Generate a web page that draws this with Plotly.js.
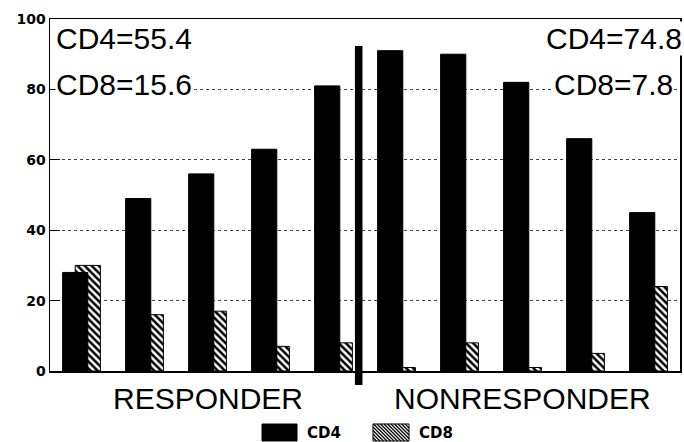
<!DOCTYPE html>
<html>
<head>
<meta charset="utf-8">
<script src="https://cdn.plot.ly/plotly-3.0.1.min.js"></script>
<style>html,body{margin:0;padding:0;background:#fff;}#chart{width:684px;height:442px;}</style>
</head>
<body>
<div id="chart"></div>
<script>
// Data
const categories = ['R1','R2','R3','R4','R5','N1','N2','N3','N4','N5'];
const cd4Values = [28, 49, 56, 63, 81, 91, 90, 82, 66, 45];
const cd8Values = [30, 16, 17, 7, 8, 1, 8, 1, 5, 24];
const groupLabels = ['RESPONDER', 'NONRESPONDER'];
const groupCenters = [2, 7];
const responderStats = ['CD4=55.4', 'CD8=15.6'];
const nonresponderStats = ['CD4=74.8', 'CD8=7.8'];
const seriesNames = ['CD4', 'CD8'];
const yTicks = [0, 20, 40, 60, 80, 100];

const W = 684, H = 442, M = {l: 50, r: 4, t: 19, b: 71};
const PW = W - M.l - M.r, PH = H - M.t - M.b;
const px2x = p => (p - M.l) / PW;
const px2y = p => (H - M.b - p) / PH;

const bigFont = {family: 'Liberation Sans, Arial, sans-serif', size: 30, color: '#000'};
const smallBold = {family: 'DejaVu Sans, sans-serif', size: 15, color: '#000', weight: 'bold'};

const traceCD8 = {
  type: 'bar', name: seriesNames[1], x: categories, y: cd8Values,
  offset: -0.1, width: 0.4, showlegend: false,
  marker: {color: '#fff', line: {color: '#000', width: 1},
    pattern: {shape: '\\', fgcolor: '#000', bgcolor: '#fff', size: 5, solidity: 0.5}}
};
const traceCD4 = {
  type: 'bar', name: seriesNames[0], x: categories, y: cd4Values,
  offset: -0.3, width: 0.4, showlegend: false,
  marker: {color: '#000', line: {color: '#000', width: 1}}
};

const annotations = [];
groupLabels.forEach((t, i) => annotations.push({
  text: t, xref: 'x', yref: 'paper', x: groupCenters[i], y: -0.077,
  xanchor: 'center', yanchor: 'middle', showarrow: false, font: bigFont
}));
responderStats.forEach((t, i) => annotations.push({
  text: t, xref: 'paper', yref: 'paper', x: 0.008, y: [0.946, 0.815][i],
  xanchor: 'left', yanchor: 'middle', showarrow: false, font: bigFont,
  bgcolor: '#fff', borderpad: 0
}));
nonresponderStats.forEach((t, i) => annotations.push({
  text: t, xref: 'paper', yref: 'paper', x: [1.004, 0.99][i], y: [0.946, 0.815][i],
  xanchor: 'right', yanchor: 'middle', showarrow: false, font: bigFont,
  bgcolor: '#fff', borderpad: 0
}));

// Custom legend (swatches + labels)
const shapes = [{type: 'rect', xref: 'x', yref: 'paper', x0: 4.34, x1: 4.46, y0: -0.04, y1: 0.923,
  fillcolor: '#000', line: {width: 0}, layer: 'above'}];
const sw = [{x0: 262, x1: 297}, {x0: 373, x1: 409}];
const swY0 = 424, swY1 = 441;
shapes.push({type: 'rect', xref: 'paper', yref: 'paper', x0: px2x(sw[0].x0), x1: px2x(sw[0].x1),
  y0: px2y(swY1), y1: px2y(swY0), fillcolor: '#000', line: {color: '#000', width: 1}});
shapes.push({type: 'rect', xref: 'paper', yref: 'paper', x0: px2x(sw[1].x0), x1: px2x(sw[1].x1),
  y0: px2y(swY1), y1: px2y(swY0), fillcolor: '#fff', line: {color: '#000', width: 1}});
// hatch lines "\" inside CD8 swatch
const hh = swY1 - swY0;
for (let s = sw[1].x0 - hh; s < sw[1].x1; s += 3.5) {
  let xa = s, ya = swY0, xb = s + hh, yb = swY1;
  if (xa < sw[1].x0) { ya += sw[1].x0 - xa; xa = sw[1].x0; }
  if (xb > sw[1].x1) { yb -= xb - sw[1].x1; xb = sw[1].x1; }
  if (xb - xa < 1) continue;
  shapes.push({type: 'line', xref: 'paper', yref: 'paper', x0: px2x(xa), y0: px2y(ya),
    x1: px2x(xb), y1: px2y(yb), line: {color: '#000', width: 1.2}});
}
seriesNames.forEach((n, i) => annotations.push({
  text: n, xref: 'paper', yref: 'paper', x: px2x(sw[i].x1 + 8), y: px2y(433),
  xanchor: 'left', yanchor: 'middle', showarrow: false, font: smallBold
}));

const layout = {
  width: W, height: H,
  margin: M,
  paper_bgcolor: '#fff', plot_bgcolor: '#fff',
  barmode: 'overlay',
  showlegend: false,
  xaxis: {type: 'category', range: [-0.5, 9.5], showticklabels: false, ticks: '',
    showgrid: false, showline: true, linecolor: '#000', linewidth: 1.5, mirror: true, zeroline: false},
  yaxis: {range: [0, 100], tickvals: yTicks, ticks: 'inside', ticklen: 10, tickcolor: '#000',
    showline: true, linecolor: '#000', linewidth: 1.5, mirror: true, zeroline: false,
    showgrid: true, gridcolor: '#444', griddash: 'dot', gridwidth: 1,
    tickfont: {family: 'DejaVu Sans, sans-serif', size: 14, color: '#000', weight: 'bold'}},
  shapes: shapes,
  annotations: annotations
};

Plotly.newPlot('chart', [traceCD8, traceCD4], layout, {staticPlot: true});
</script>
</body>
</html>
